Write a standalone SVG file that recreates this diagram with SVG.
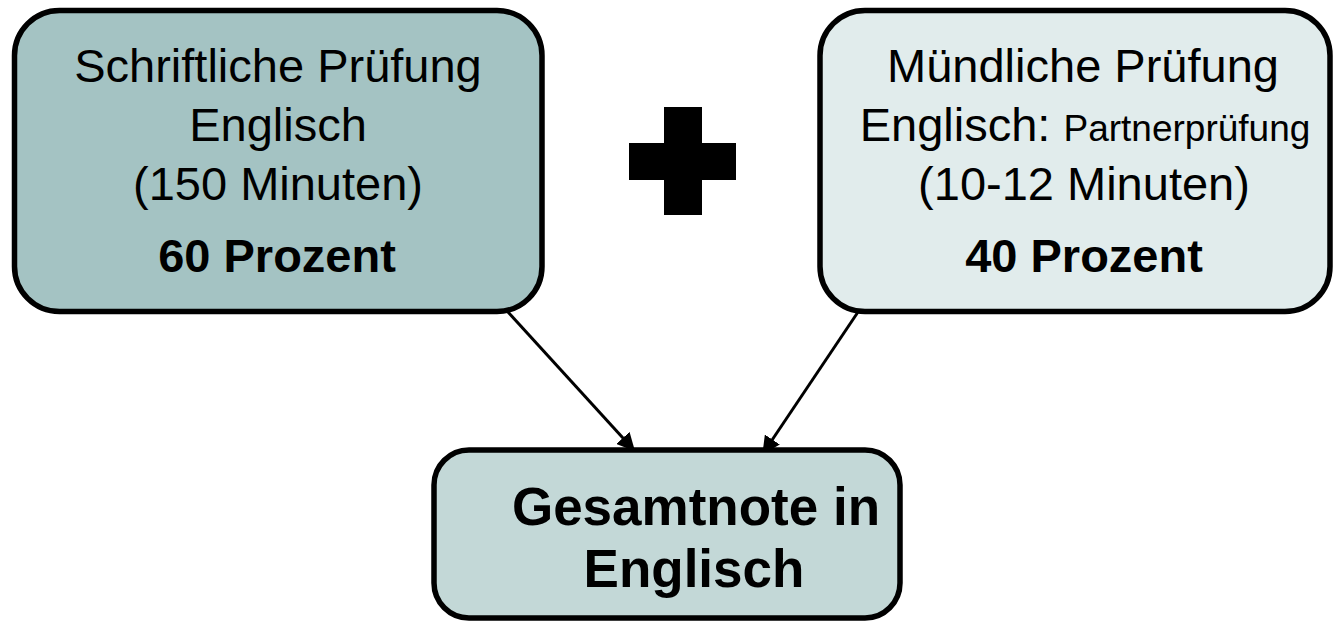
<svg xmlns="http://www.w3.org/2000/svg" width="1334" height="624" viewBox="0 0 1334 624">
<style>
.box{stroke:#000;stroke-width:5.5}
.t{font-family:'Liberation Sans',Arial,sans-serif;font-size:47px;fill:#000;text-anchor:middle}
.b{font-weight:bold}
.big{font-size:53px}
.small{font-size:37px}
.conn{stroke:#000;stroke-width:3;fill:none}
</style>
<defs>
<marker id="ah" markerWidth="6" markerHeight="6" refX="5" refY="3" orient="auto" markerUnits="strokeWidth">
<path d="M0,0 L6,3 L0,6 Z" fill="#000"/>
</marker>
</defs>
<rect width="1334" height="624" fill="#fff"/>
<g id="connectors">
<line class="conn" x1="508" y1="312" x2="633" y2="449" marker-end="url(#ah)"/>
<line class="conn" x1="858" y1="312" x2="764" y2="452" marker-end="url(#ah)"/>
</g>
<g id="schriftlich">
<rect class="box" x="14.5" y="10.5" width="527.5" height="301" rx="45" fill="#A4C3C3"/>
<text class="t" x="278" y="82">Schriftliche Prüfung</text>
<text class="t" x="278" y="141">Englisch</text>
<text class="t" x="278" y="200">(150 Minuten)</text>
<text class="t b" x="277" y="272">60 Prozent</text>
</g>
<g id="plus">
<polygon points="664,107 702,107 702,143 736,143 736,180 702,180 702,215 664,215 664,180 629,180 629,143 664,143" fill="#000"/>
</g>
<g id="muendlich">
<rect class="box" x="820" y="10.5" width="510" height="301" rx="45" fill="#E1ECEC"/>
<text class="t" x="1083" y="82">Mündliche Prüfung</text>
<text class="t" x="1085" y="141">Englisch: <tspan class="small">Partnerprüfung</tspan></text>
<text class="t" x="1084" y="200">(10-12 Minuten)</text>
<text class="t b" x="1084" y="272">40 Prozent</text>
</g>
<g id="gesamt">
<rect class="box" x="434" y="450" width="466" height="168" rx="35" fill="#C3D8D7"/>
<text class="t b big" x="696" y="525">Gesamtnote in</text>
<text class="t b big" x="694" y="587">Englisch</text>
</g>
</svg>
